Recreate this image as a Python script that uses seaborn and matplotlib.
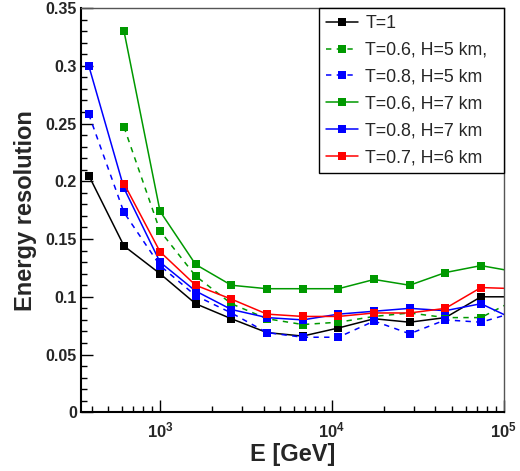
import numpy as np
import pandas as pd
import matplotlib
matplotlib.use("Agg")
import matplotlib.pyplot as plt
import seaborn as sns
from matplotlib.ticker import LogLocator, MultipleLocator, FuncFormatter

# energy bins [GeV] (last one lies beyond the axis and is clipped)
energy = [385, 617, 1000, 1610, 2600, 4190, 6760, 10900, 17600, 28300, 45700, 73600, 118600]

res_t1 = [0.205, 0.144, 0.120, 0.094, 0.081, 0.069, 0.066, 0.073, 0.081, 0.078, 0.082, 0.100, 0.100]
res_t06_h5 = [None, 0.247, 0.157, 0.118, 0.094, 0.081, 0.076, 0.078, 0.083, 0.086, 0.082, 0.082, 0.098]
res_t08_h5 = [0.258, 0.173, 0.127, 0.101, 0.086, 0.069, 0.065, 0.065, 0.079, 0.068, 0.080, 0.078, 0.087]
res_t06_h7 = [None, 0.330, 0.174, 0.128, 0.110, 0.107, 0.107, 0.107, 0.115, 0.110, 0.121, 0.127, 0.1215]
res_t08_h7 = [0.300, 0.194, 0.130, 0.105, 0.089, 0.082, 0.080, 0.085, 0.0875, 0.090, 0.088, 0.094, 0.0795]
res_t07_h6 = [None, 0.198, 0.139, 0.110, 0.098, 0.085, 0.083, 0.083, 0.086, 0.086, 0.090, 0.108, 0.107]

labels = ["T=1", "T=0.6, H=5 km,", "T=0.8, H=5 km",
          "T=0.6, H=7 km", "T=0.8, H=7 km", "T=0.7, H=6 km"]
series = [res_t1, res_t06_h5, res_t08_h5, res_t06_h7, res_t08_h7, res_t07_h6]
colors = ["black", "#009900", "#0000ff", "#009900", "#0000ff", "#ff0000"]
dashed = [False, True, True, False, False, False]

sns.set_theme(style="ticks")
plt.rcParams["font.family"] = ["Liberation Sans", "DejaVu Sans"]
plt.rcParams["mathtext.fontset"] = "custom"
plt.rcParams["mathtext.rm"] = "Liberation Sans"
plt.rcParams["mathtext.bf"] = "Liberation Sans:bold"
plt.rcParams["mathtext.default"] = "bf"

fig = plt.figure(figsize=(5.2, 4.71), dpi=100)
ax = fig.add_axes([0.1558, 0.1246, 0.969 - 0.1558, 0.983 - 0.1246])

for vals, lab, col, dash in zip(series, labels, colors, dashed):
    df = pd.DataFrame({"E": energy, "res": np.array(vals, dtype=float)}).dropna()
    sns.lineplot(data=df, x="E", y="res", ax=ax, color=col, label=lab,
                 marker="s", markersize=5.5, markeredgewidth=0, linewidth=1.1,
                 linestyle=(0, (3.5, 3.5)) if dash else "-", sort=False)

ax.set_xscale("log")
ax.set_xlim(347, 1e5)
ax.set_ylim(0, 0.35)

ax.yaxis.set_major_locator(MultipleLocator(0.05))
ax.yaxis.set_minor_locator(MultipleLocator(0.01))
ax.yaxis.set_major_formatter(FuncFormatter(lambda v, _: f"{v:g}"))
ax.xaxis.set_major_locator(LogLocator(base=10))
ax.xaxis.set_minor_locator(LogLocator(base=10, subs=np.arange(2, 10)))
ax.xaxis.set_major_formatter(FuncFormatter(lambda v, _: r"$10^{%d}$" % round(np.log10(v))))

ax.tick_params(which="both", direction="in", top=False, right=False, color="black")
ax.tick_params(which="major", length=8.6, width=1)
ax.tick_params(which="minor", length=4.3, width=1)
ax.tick_params(axis="y", labelsize=11.5, pad=3)
ax.tick_params(axis="x", labelsize=12, pad=6)
for t in ax.get_yticklabels():
    t.set_fontweight("bold")

for side in ["left", "bottom"]:
    ax.spines[side].set_linewidth(1.5)
    ax.spines[side].set_color("black")
for side in ["top", "right"]:
    ax.spines[side].set_linewidth(1)
    ax.spines[side].set_color("#555555")

ax.set_xlabel("E [GeV]", fontsize=17, fontweight="bold", labelpad=2)
ax.set_ylabel("Energy resolution", fontsize=17, fontweight="bold", labelpad=6)

leg = ax.legend(loc="upper left", bbox_to_anchor=(0.5626, 0.0, 0.4374, 1.0),
                mode="expand", fontsize=12.8,
                frameon=True, fancybox=False, edgecolor="black", framealpha=1,
                numpoints=1, handlelength=1.8, handletextpad=0.4,
                labelspacing=0.55, borderpad=0.4, borderaxespad=0)
leg.get_frame().set_linewidth(1)

fig.savefig("out.png", dpi=100)
